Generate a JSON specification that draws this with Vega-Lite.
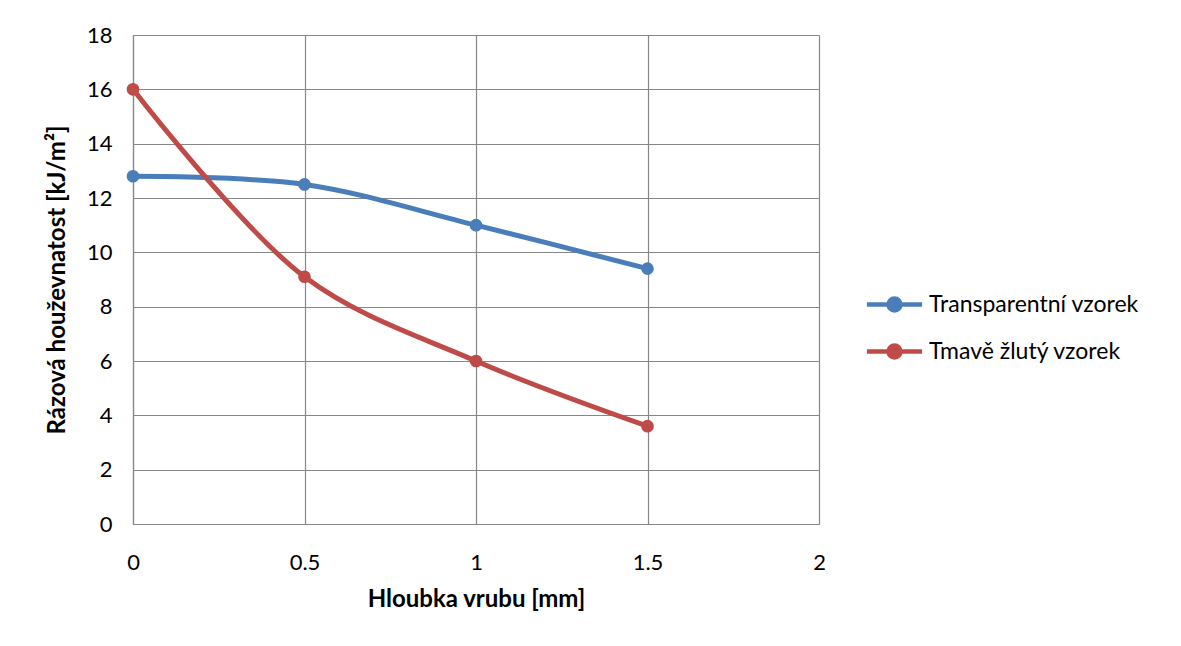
{
  "$schema": "https://vega.github.io/schema/vega-lite/v6.json",
  "autosize": "none",
  "width": 686,
  "height": 489,
  "padding": {"left": 133, "top": 35, "right": 362, "bottom": 122},
  "background": "white",
  "config": {
    "font": "Lato",
    "view": {"stroke": null},
    "axis": {
      "gridColor": "#878787",
      "gridWidth": 1.2,
      "gridOpacity": 1,
      "domainColor": "#878787",
      "domainWidth": 1.2,
      "ticks": false,
      "labelFont": "Lato",
      "labelFontSize": 22,
      "labelColor": "#000000",
      "titleFont": "Lato",
      "titleFontSize": 24,
      "titleFontWeight": "bold",
      "titleColor": "#000000"
    }
  },
  "data": {
    "values": [
      {"hloubka": 0, "hodnota": 12.8, "vzorek": "Transparentní vzorek"},
      {"hloubka": 0.5, "hodnota": 12.5, "vzorek": "Transparentní vzorek"},
      {"hloubka": 1, "hodnota": 11.0, "vzorek": "Transparentní vzorek"},
      {"hloubka": 1.5, "hodnota": 9.4, "vzorek": "Transparentní vzorek"},
      {"hloubka": 0, "hodnota": 16.0, "vzorek": "Tmavě žlutý vzorek"},
      {"hloubka": 0.5, "hodnota": 9.1, "vzorek": "Tmavě žlutý vzorek"},
      {"hloubka": 1, "hodnota": 6.0, "vzorek": "Tmavě žlutý vzorek"},
      {"hloubka": 1.5, "hodnota": 3.6, "vzorek": "Tmavě žlutý vzorek"}
    ]
  },
  "mark": {
    "type": "line",
    "interpolate": "catmull-rom",
    "strokeWidth": 5,
    "point": {"filled": true, "size": 160, "opacity": 1}
  },
  "encoding": {
    "x": {
      "field": "hloubka",
      "type": "quantitative",
      "scale": {"domain": [0, 2], "nice": false},
      "axis": {
        "values": [0, 0.5, 1, 1.5, 2],
        "format": "~g",
        "labelPadding": 28,
        "title": "Hloubka vrubu [mm]",
        "titlePadding": 14,
        "labelFlush": false
      }
    },
    "y": {
      "field": "hodnota",
      "type": "quantitative",
      "scale": {"domain": [0, 18], "nice": false},
      "axis": {
        "values": [0, 2, 4, 6, 8, 10, 12, 14, 16, 18],
        "labelPadding": 21,
        "title": "Rázová houževnatost [kJ/m²]",
        "titlePadding": 17
      }
    },
    "color": {
      "field": "vzorek",
      "type": "nominal",
      "scale": {
        "domain": ["Transparentní vzorek", "Tmavě žlutý vzorek"],
        "range": ["#4A7EBB", "#BE4B48"]
      },
      "legend": {
        "title": null,
        "orient": "none",
        "legendX": 736,
        "legendY": 244,
        "padding": 0,
        "symbolType": "M-1.2,0H1.2M-0.26,0a0.26,0.26 0 1,0 0.52,0a0.26,0.26 0 1,0 -0.52,0",
        "symbolSize": 2116,
        "symbolStrokeWidth": 4.5,
        "labelFont": "Lato",
        "labelFontSize": 23,
        "labelLimit": 400,
        "labelColor": "#000000",
        "labelOffset": 9,
        "rowPadding": 6,
        "encode": {
          "symbols": {"update": {"fill": {"scale": "color", "field": "value"}, "fillOpacity": {"value": 1}}}
        }
      }
    }
  }
}
